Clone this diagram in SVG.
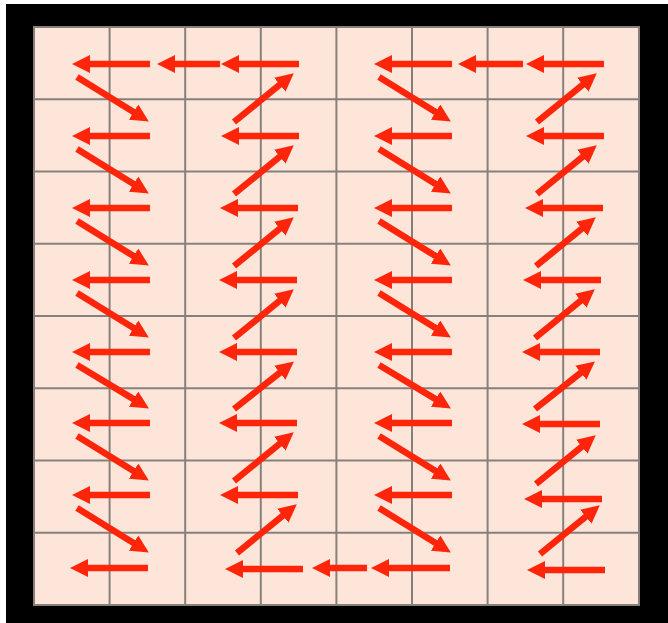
<svg xmlns="http://www.w3.org/2000/svg" width="668" height="623" viewBox="0 0 668 623">
<defs>
<style>
.grid line{stroke:#85807c;stroke-width:2}
.arr line{stroke:#ff250a;stroke-width:6.5;marker-end:url(#ah)}
</style>
<marker id="ah" markerUnits="userSpaceOnUse" markerWidth="19" markerHeight="18" refX="1" refY="9" orient="auto" viewBox="0 0 19 18">
<path d="M0,0 L18,9 L0,18 z" fill="#ff250a"/>
</marker>
</defs>
<rect x="0" y="0" width="668" height="623" fill="#ffffff"/>
<rect x="6" y="4" width="662" height="619" fill="#000000"/>
<g id="grid" class="grid">
<rect x="34" y="27" width="605" height="578" fill="#fde6d9" stroke="#85807c" stroke-width="2"/>
<line x1="109.6" y1="27" x2="109.6" y2="605"/>
<line x1="185.2" y1="27" x2="185.2" y2="605"/>
<line x1="260.8" y1="27" x2="260.8" y2="605"/>
<line x1="336.4" y1="27" x2="336.4" y2="605"/>
<line x1="412" y1="27" x2="412" y2="605"/>
<line x1="487.6" y1="27" x2="487.6" y2="605"/>
<line x1="563.2" y1="27" x2="563.2" y2="605"/>
<line x1="34" y1="99.25" x2="639" y2="99.25"/>
<line x1="34" y1="171.5" x2="639" y2="171.5"/>
<line x1="34" y1="243.75" x2="639" y2="243.75"/>
<line x1="34" y1="316" x2="639" y2="316"/>
<line x1="34" y1="388.25" x2="639" y2="388.25"/>
<line x1="34" y1="460.5" x2="639" y2="460.5"/>
<line x1="34" y1="532.75" x2="639" y2="532.75"/>
</g>
<g id="connectors" class="arr">
<!-- pair A horizontals -->
<line x1="150" y1="64" x2="89" y2="64"/>
<line x1="150" y1="136" x2="89" y2="136"/>
<line x1="150" y1="208" x2="89" y2="208"/>
<line x1="150" y1="280" x2="89" y2="280"/>
<line x1="150" y1="352" x2="89" y2="352"/>
<line x1="150" y1="423" x2="89" y2="423"/>
<line x1="150" y1="495" x2="89" y2="495"/>
<line x1="148" y1="568" x2="87" y2="568"/>
<!-- pair A diagonals -->
<line x1="77" y1="77" x2="134.4" y2="112.6"/>
<line x1="77" y1="149" x2="134.4" y2="184.6"/>
<line x1="77" y1="221" x2="134.4" y2="256.6"/>
<line x1="77" y1="293" x2="134.4" y2="328.6"/>
<line x1="77" y1="365" x2="134.4" y2="399.6"/>
<line x1="77" y1="436" x2="134.4" y2="471.6"/>
<line x1="77" y1="508" x2="134.4" y2="543.6"/>
<!-- pair B horizontals -->
<line x1="299" y1="64" x2="238" y2="64"/>
<line x1="299" y1="136" x2="238" y2="136"/>
<line x1="298" y1="208" x2="237" y2="208"/>
<line x1="297" y1="280" x2="236" y2="280"/>
<line x1="297" y1="352" x2="236" y2="352"/>
<line x1="297" y1="423" x2="236" y2="423"/>
<line x1="298" y1="495" x2="237" y2="495"/>
<line x1="303" y1="569" x2="242" y2="569"/>
<!-- pair B diagonals -->
<line x1="234" y1="122" x2="280.6" y2="84.1"/>
<line x1="234" y1="194" x2="280.6" y2="156.1"/>
<line x1="234" y1="266" x2="280.6" y2="228.1"/>
<line x1="234" y1="338" x2="280.6" y2="300.1"/>
<line x1="234" y1="409" x2="280.6" y2="372.1"/>
<line x1="234" y1="481" x2="280.6" y2="443.1"/>
<line x1="237" y1="553" x2="283.6" y2="515.1"/>
<!-- pair C horizontals -->
<line x1="452" y1="64" x2="391" y2="64"/>
<line x1="452" y1="136" x2="391" y2="136"/>
<line x1="452" y1="208" x2="391" y2="208"/>
<line x1="452" y1="280" x2="391" y2="280"/>
<line x1="452" y1="352" x2="391" y2="352"/>
<line x1="452" y1="423" x2="391" y2="423"/>
<line x1="452" y1="495" x2="391" y2="495"/>
<line x1="450" y1="568" x2="388" y2="568"/>
<!-- pair C diagonals -->
<line x1="379" y1="77" x2="436.4" y2="112.6"/>
<line x1="379" y1="149" x2="436.4" y2="184.6"/>
<line x1="379" y1="221" x2="436.4" y2="256.6"/>
<line x1="379" y1="293" x2="436.4" y2="328.6"/>
<line x1="379" y1="365" x2="436.4" y2="399.6"/>
<line x1="379" y1="436" x2="436.4" y2="471.6"/>
<line x1="379" y1="508" x2="436.4" y2="543.6"/>
<!-- pair D horizontals -->
<line x1="604" y1="64" x2="543" y2="64"/>
<line x1="604" y1="136" x2="543" y2="136"/>
<line x1="603" y1="208" x2="542" y2="208"/>
<line x1="601" y1="280" x2="540" y2="280"/>
<line x1="600" y1="352" x2="539" y2="352"/>
<line x1="600" y1="424" x2="539" y2="424"/>
<line x1="602" y1="499" x2="541" y2="499"/>
<line x1="605" y1="570" x2="544" y2="570"/>
<!-- pair D diagonals -->
<line x1="537" y1="122" x2="583.6" y2="84.1"/>
<line x1="537" y1="194" x2="583.6" y2="156.1"/>
<line x1="536" y1="266" x2="582.6" y2="228.1"/>
<line x1="535" y1="338" x2="581.6" y2="300.1"/>
<line x1="535" y1="409" x2="581.6" y2="372.1"/>
<line x1="536" y1="484" x2="582.6" y2="446.1"/>
<line x1="540" y1="554" x2="586.6" y2="516.1"/>
<!-- links between pairs -->
<line x1="220" y1="64" x2="174" y2="64"/>
<line x1="523" y1="64" x2="475" y2="64"/>
<line x1="367" y1="568" x2="329" y2="568"/>
</g>
</svg>
